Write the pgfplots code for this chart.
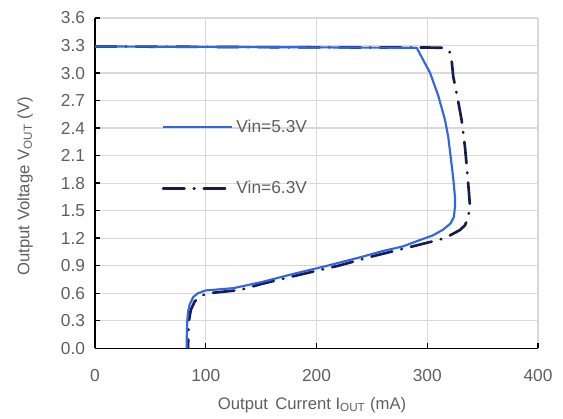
\documentclass[border=0pt]{standalone}
\usepackage{pgfplots}
\pgfplotsset{compat=1.18}
\usepackage{fontspec}
\setmainfont{Liberation Sans}
\definecolor{txt}{RGB}{95,95,95}
\definecolor{grd}{RGB}{217,217,217}
\definecolor{vblue}{RGB}{50,100,230}
\definecolor{vnavy}{RGB}{22,28,78}
\begin{document}
\begin{tikzpicture}
\begin{axis}[
  scale only axis,
  width=332pt, height=247.5pt,
  at={(0,0)}, anchor=south west,
  xmin=0, xmax=400, ymin=0, ymax=3.6,
  xtick={0,100,200,300,400},
  ytick={0,0.3,...,3.61},
  yticklabel style={/pgf/number format/fixed,/pgf/number format/precision=1,/pgf/number format/fixed zerofill, xshift=-4pt},
  xticklabel style={yshift=-12pt},
  /pgf/number format/assume math mode=true,
  ticklabel style={font=\fontsize{13}{15}\selectfont, text=txt},
  axis lines=left,
  axis line style={-, black, line width=1pt},
  tick align=inside,
  major tick length=4pt,
  tick style={black, line width=1pt},
  grid=major,
  major grid style={grd, line width=0.9pt},
  xlabel={Output\, Current I\textsubscript{OUT} (mA)},
  ylabel={Output Voltage V\textsubscript{OUT} (V)},
  label style={font=\fontsize{12.5}{15}\selectfont, text=txt},
  xlabel style={at={(axis description cs:0.49,0)}, anchor=center, yshift=-42.5pt},
  ylabel style={at={(axis description cs:0,0.49)}, anchor=center, yshift=52.5pt},
  legend style={draw=none, fill=none, at={(axis description cs:0.15,0.70)}, anchor=north west,
    font=\fontsize{13}{15}\selectfont, text=txt, row sep=31pt, inner sep=0pt},
  legend cell align=left,
  legend image code/.code={\draw[#1] (0pt,0pt) -- (52pt,0pt);},
  set layers,
]
\addplot[vnavy, line width=2pt, line cap=round, line join=round, dash pattern=on 16pt off 7pt on 0.5pt off 7pt, forget plot] coordinates {
(0,3.29) (100,3.285) (200,3.28) (300,3.278) (316,3.275) (320,3.24) (322,3.14) (323.5,2.96)
(327,2.75) (331,2.49) (334,2.2) (335.7,1.98) (337.5,1.72) (338.5,1.56) (337,1.42) (334,1.34)
(329.7,1.29) (316,1.2) (300,1.15) (280,1.09) (250,1.0) (220,0.9) (179,0.785) (150,0.7)
(131,0.635) (115,0.615) (103,0.6) (95,0.57) (90,0.51) (86.5,0.42) (84.8,0.3) (84.2,0.15) (84,0)
};
\addplot[vblue, line width=1.6pt, line join=round] coordinates {
(0,3.29) (100,3.285) (200,3.28) (290.5,3.275) (296,3.15) (302.6,3.0) (310,2.75) (316,2.49)
(319,2.3) (321.5,2.05) (323.5,1.85) (325,1.65) (325,1.54) (324,1.43) (321,1.36) (314,1.29)
(305,1.23) (293.6,1.18) (278,1.11) (260,1.06) (239,0.99) (210,0.9) (179,0.81) (150,0.72)
(125,0.655) (110,0.64) (100,0.63) (93,0.6) (88.8,0.56) (85.5,0.48) (84,0.4) (83.3,0.3)
(83,0.2) (82.8,0.1) (82.8,0)
};
\addlegendentry{Vin=5.3V}
\addlegendimage{vnavy, line width=2pt, line cap=round, dash pattern=on 16pt off 7pt on 0.5pt off 7pt}
\addlegendentry{Vin=6.3V}
\end{axis}
\pgfresetboundingbox
\path (-71.25pt,-52.5pt) rectangle (350.75pt,261pt);
\end{tikzpicture}
\end{document}
